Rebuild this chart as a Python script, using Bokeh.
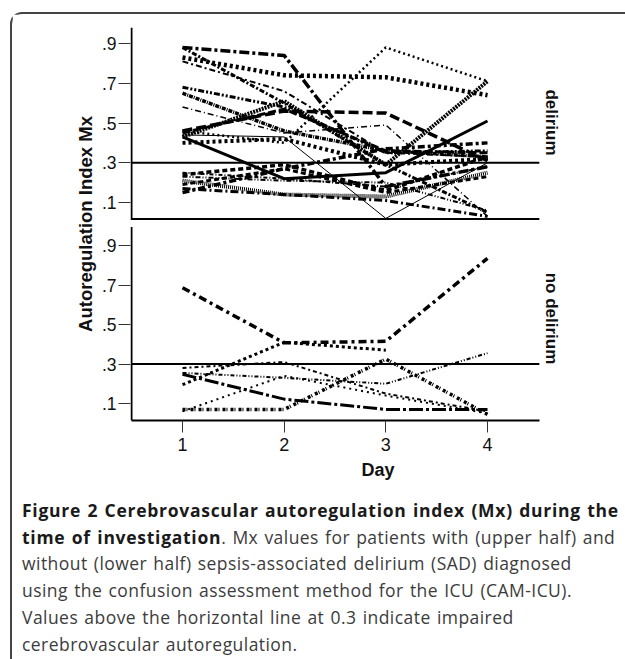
import math
import numpy as np
from bokeh.plotting import figure
from bokeh.layouts import column
from bokeh.models import Range1d, FixedTicker, CustomJSTickFormatter, Label, Div
from bokeh.embed import file_html
from bokeh.resources import INLINE

# ---------------- data ----------------
days = [1, 2, 3, 4]
mx_ticks = [0.1, 0.3, 0.5, 0.7, 0.9]
mx_tick_labels = [".1", ".3", ".5", ".7", ".9"]
threshold = 0.3

# Mx per patient, day 1..4 (patients with delirium)
delirium_mx = [
    [0.88, 0.84, 0.18, 0.28],
    [0.83, 0.74, 0.73, 0.64],
    [0.46, 0.40, 0.88, 0.71],
    [0.81, 0.66, 0.35, 0.33],
    [0.46, 0.56, 0.55, 0.31],
    [0.43, 0.61, 0.29, 0.71],
    [0.43, 0.22, 0.25, 0.51],
    [0.44, 0.43, 0.02, 0.30],
    [0.65, 0.46, 0.36, 0.33],
    [0.68, 0.58, 0.35, 0.36],
    [0.24, 0.29, 0.16, 0.33],
    [0.23, 0.21, 0.20, 0.06],
    [0.17, 0.14, 0.11, 0.03],
    [0.15, 0.27, 0.37, 0.40],
    [0.40, 0.42, 0.29, 0.32],
    [0.21, 0.14, 0.13, 0.25],
    [0.58, 0.45, 0.49, 0.03],
    [0.25, 0.22, 0.18, 0.28],
    [0.45, 0.57, 0.36, 0.35],
    [0.19, 0.27, 0.15, 0.23],
    [0.88, 0.60, 0.29, 0.05],
]
# Mx per patient, day 1..4 (patients without delirium)
no_delirium_mx = [
    [0.686, 0.407, 0.415, 0.835],
    [0.195, 0.410, 0.370, float("nan")],
    [0.280, 0.310, 0.150, 0.060],
    [0.255, 0.230, 0.200, 0.355],
    [0.060, 0.240, 0.140, 0.050],
    [0.248, 0.122, 0.070, 0.070],
    [0.070, 0.070, 0.325, 0.045],
]

# line styles (width, dash)
delirium_styles = [
    (3.5, "10 3 3 3"), (4.5, "3 3"), (2.5, "2 3"), (2, "6 3 2 3"),
    (3.5, "10 4"), (4, "2 1"), (3, "solid"), (1, "solid"),
    (3.5, "4 1 1 1"), (3, "6 2 2 2 2 2"), (3.5, "5 3"), (2, "5 2 1 2 1 2"),
    (3, "8 3 2 3"), (3.5, "7 3 3 3"), (4, "3 3"), (4, "1 1"),
    (1.5, "6 3 1 3"), (2, "4 2 1 2"), (3, "8 3"), (3, "5 3"), (3, "5 2 2 2"),
]
no_delirium_styles = [
    (3.5, "8 4 3 4"), (3, "3 3"), (2, "4 3 2 3"), (2, "4 2 1 2 1 2"),
    (2, "2 4"), (3, "14 3 3 3"), (3.5, "3 1 1 3"),
]

caption_bold_1 = "Figure 2 Cerebrovascular autoregulation index (Mx) during the"
caption_bold_2 = "time of investigation"
caption_rest = [
    ". Mx values for patients with (upper half) and",
    "without (lower half) sepsis-associated delirium (SAD) diagnosed",
    "using the confusion assessment method for the ICU (CAM-ICU).",
    "Values above the horizontal line at 0.3 indicate impaired",
    "cerebrovascular autoregulation.",
]

# ---------------- layout (reference pixel coordinates) ----------------
PAGE_W, PAGE_H = 625, 659
BORDER_X, BORDER_Y, BORDER_W = 10, 12, 2
OX, OY = BORDER_X + BORDER_W, BORDER_Y + BORDER_W     # where the figure starts
FL, FR, FT, FB = 130, 625, 27, 420                    # plot frame
FIG_BOTTOM = 495
AX_X = 131                                            # y-axis line
UP9, UP1 = 43, 202                                    # upper panel .9 / .1
LO9, LO1 = 245, 403                                   # lower panel .9 / .1
UPPER_BOTTOM, LOWER_TOP = 218.5, 226.5
DAY1_PX, DAY_PX = 182, (487 - 182) / 3
X_LO, X_HI = 0.5, 4.51                                # panel extent in days

s_u = (UP1 - UP9) / 0.8
s_l = (LO1 - LO9) / 0.8
U0, U1 = 0.1 - (FB - UP1) / s_u, 0.9 + (UP9 - FT) / s_u
L0, L1 = 0.1 - (FB - LO1) / s_l, 0.9 + (LO9 - FT) / s_l
XS, XE = 1 + (FL - DAY1_PX) / DAY_PX, 1 + (FR - DAY1_PX) / DAY_PX

fig_w = PAGE_W - OX
fig_h = FIG_BOTTOM - OY
p = figure(width=fig_w, height=fig_h, output_backend="svg", toolbar_location=None,
           x_range=Range1d(XS, XE), y_range=Range1d(FB, FT),
           min_border_left=FL - OX, min_border_right=0,
           min_border_top=FT - OY, min_border_bottom=fig_h - (FB - OY))
p.outline_line_color = None
p.grid.visible = False
p.background_fill_color = "white"
p.border_fill_color = "white"

p.extra_x_ranges = {"px": Range1d(FL, FR)}
p.extra_y_ranges = {"upper": Range1d(U0, U1), "lower": Range1d(L0, L1)}

FONT = "Liberation Sans"

# y axis (both panels share the left edge)
tick_pos = [UP9 + (0.9 - v) * s_u for v in mx_ticks] + [LO9 + (0.9 - v) * s_l for v in mx_ticks]
yax = p.yaxis[0]
yax.ticker = FixedTicker(ticks=tick_pos)
yax.formatter = CustomJSTickFormatter(
    args=dict(pos=tick_pos, lab=mx_tick_labels * 2),
    code="""
let b = 0;
for (let i = 0; i < pos.length; i++) {
  if (Math.abs(pos[i] - tick) < Math.abs(pos[b] - tick)) b = i;
}
return lab[b];
""")
yax.minor_tick_line_color = None
yax.major_tick_in = 0
yax.major_tick_out = 12
yax.major_tick_line_color = "#333333"
yax.major_tick_line_width = 1
yax.axis_line_color = None
yax.major_label_standoff = 2
yax.major_label_text_font = FONT
yax.major_label_text_font_size = "17.5px"
yax.major_label_text_color = "#111111"
yax.axis_label = "Autoregulation Index Mx"
yax.axis_label_text_font = FONT
yax.axis_label_text_font_style = "bold"
yax.axis_label_text_font_size = "18.5px"
yax.axis_label_text_color = "#111111"
yax.axis_label_standoff = 3

xax = p.xaxis[0]
xax.ticker = FixedTicker(ticks=days)
xax.bounds = (X_LO, X_HI)
xax.minor_tick_line_color = None
xax.major_tick_in = 0
xax.major_tick_out = 12
xax.major_tick_line_color = "#333333"
xax.major_tick_line_width = 1
xax.axis_line_width = 2
xax.axis_line_color = "black"
xax.major_label_standoff = 5
xax.major_label_text_font = FONT
xax.major_label_text_font_size = "18px"
xax.major_label_text_color = "#111111"
xax.axis_label = "Day"
xax.axis_label_text_font = FONT
xax.axis_label_text_font_style = "bold"
xax.axis_label_text_font_size = "18px"
xax.axis_label_text_color = "#111111"
xax.axis_label_standoff = 6

# y axis lines of the two panels (with the gap between them)
p.segment(x0=[AX_X, AX_X], x1=[AX_X, AX_X], y0=[FT, LOWER_TOP], y1=[UPPER_BOTTOM + 1, FB],
          x_range_name="px", line_color="black", line_width=2)
# bottom line of the upper panel
p.segment(x0=[X_LO], x1=[X_HI], y0=[UPPER_BOTTOM], y1=[UPPER_BOTTOM],
          line_color="black", line_width=2)

# data lines
for ser, (w, d) in zip(delirium_mx, delirium_styles):
    p.line(days, np.array(ser, dtype=float), y_range_name="upper", line_color="black",
           line_width=w, line_dash=d)
for ser, (w, d) in zip(no_delirium_mx, no_delirium_styles):
    p.line(days, np.array(ser, dtype=float), y_range_name="lower", line_color="black",
           line_width=w, line_dash=d)

# reference lines at Mx = 0.3
p.segment(x0=[X_LO], x1=[X_HI], y0=[threshold], y1=[threshold], y_range_name="upper",
          line_color="black", line_width=2)
p.segment(x0=[X_LO], x1=[X_HI], y0=[threshold], y1=[threshold], y_range_name="lower",
          line_color="black", line_width=2)

# panel labels
for txt, yy in (("delirium", 122), ("no delirium", 318)):
    p.add_layout(Label(x=551, y=yy, x_range_name="px", text=txt, angle=-math.pi / 2,
                       text_align="center", text_baseline="middle", text_font=FONT,
                       text_font_style="bold", text_font_size="17px", text_color="#111111"))

# caption
bold = '<b style="font-weight:700;color:#1a1a1a;letter-spacing:0.72px">{}</b>'
lines = [bold.format(caption_bold_1),
         bold.format(caption_bold_2) + caption_rest[0]] + caption_rest[1:]
cap_html = ('<div style="white-space:nowrap;font-family:\'Open Sans\';font-size:17.5px;'
            'letter-spacing:0.45px;word-spacing:1.2px;'
            'line-height:26.7px;color:#3c3c3c;padding:2px 0 0 10px;margin:0;">'
            + "<br>".join(lines) + "</div>")
cap = Div(text=cap_html, width=fig_w, height=PAGE_H - FIG_BOTTOM,
          styles={"margin": "0", "padding": "0"})

layout = column(p, cap, spacing=0,
                styles={"margin-left": f"{BORDER_X}px", "margin-top": f"{BORDER_Y}px",
                        "border-left": f"{BORDER_W}px solid #444444",
                        "border-top": f"{BORDER_W}px solid #444444",
                        "border-top-left-radius": "12px"})

open("out.html", "w").write(file_html(layout, INLINE))
